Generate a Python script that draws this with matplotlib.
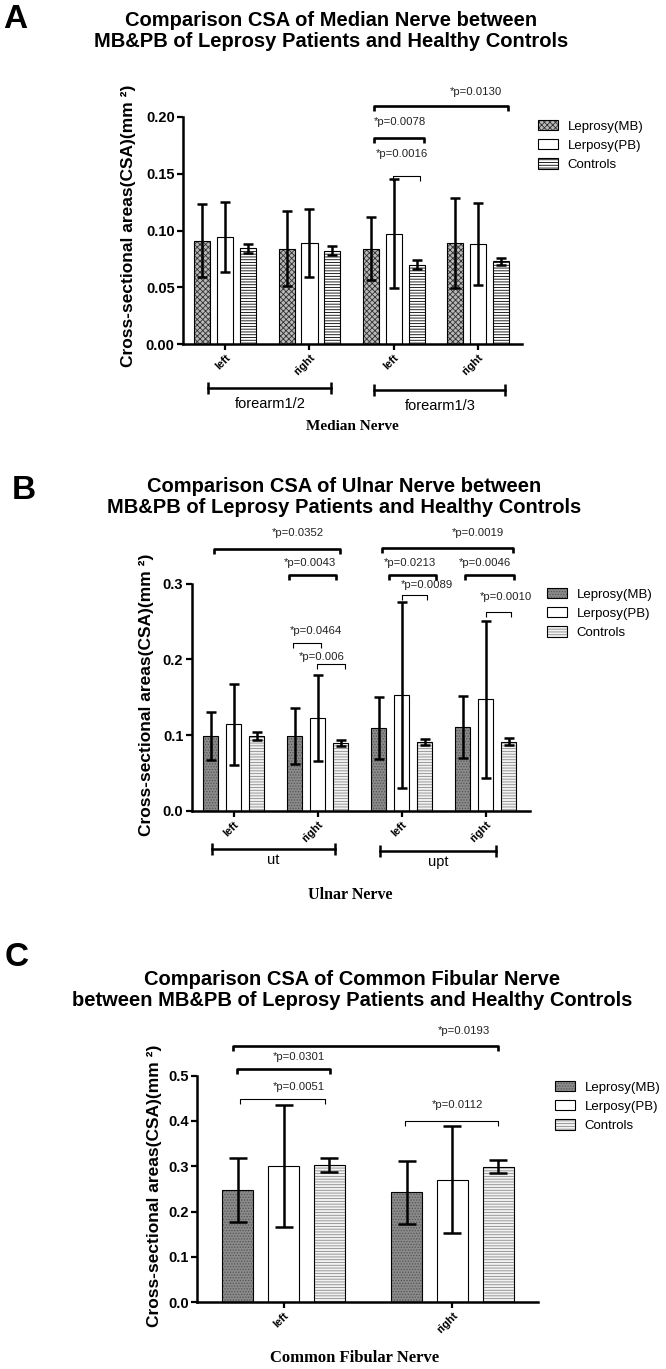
import matplotlib
matplotlib.use('Agg')
import matplotlib.pyplot as plt
import matplotlib.transforms as mtransforms
from matplotlib.legend_handler import HandlerTuple
from matplotlib.patches import Patch
import numpy as np

# ---- data ----
series_names = ['Leprosy(MB)', 'Lerposy(PB)', 'Controls']
side_labels = ['left', 'right', 'left', 'right']

# Median nerve
median_groups = ['forearm1/2', 'forearm1/3']
median_mb = [0.091, 0.084, 0.084, 0.089]
median_mb_sd = [0.032, 0.033, 0.028, 0.040]
median_pb = [0.094, 0.089, 0.097, 0.088]
median_pb_sd = [0.031, 0.030, 0.048, 0.036]
median_ctrl = [0.0845, 0.082, 0.070, 0.073]
median_ctrl_sd = [0.004, 0.004, 0.0037, 0.003]

# Ulnar nerve
ulnar_groups = ['ut', 'upt']
ulnar_mb = [0.099, 0.099, 0.109, 0.111]
ulnar_mb_sd = [0.032, 0.037, 0.041, 0.041]
ulnar_pb = [0.114, 0.1225, 0.1525, 0.147]
ulnar_pb_sd = [0.054, 0.057, 0.123, 0.104]
ulnar_ctrl = [0.099, 0.089, 0.091, 0.091]
ulnar_ctrl_sd = [0.005, 0.004, 0.004, 0.0045]

# Common fibular nerve
fibular_sides = ['left', 'right']
fibular_mb = [0.248, 0.242]
fibular_mb_sd = [0.071, 0.070]
fibular_pb = [0.300, 0.270]
fibular_pb_sd = [0.135, 0.118]
fibular_ctrl = [0.303, 0.299]
fibular_ctrl_sd = [0.015, 0.014]

# ---- figure setup ----
W, H = 666, 1369
plt.rcParams['font.family'] = ['Liberation Sans', 'DejaVu Sans']
plt.rcParams['hatch.linewidth'] = 0.6
fig = plt.figure(figsize=(W / 100, H / 100), dpi=100)


def fx(px):
    return px / W


def fy(py):
    return 1 - py / H


def make_ax(x0, x1, y_zero, y_top):
    return fig.add_axes([fx(x0), fy(y_zero), (x1 - x0) / W, (y_zero - y_top) / H])


def draw_bars(ax, x, vals, sds, style, width, capsize):
    ax.bar(x, vals, width, color=style['face'], edgecolor=style['hcol'], linewidth=0,
           hatch=style['hatch'], zorder=2)
    ax.bar(x, vals, width, fill=False, edgecolor='black', linewidth=0.8, zorder=3)
    ax.errorbar(x, vals, yerr=sds, fmt='none', ecolor='black', elinewidth=1.8,
                capsize=capsize, capthick=1.8, zorder=4)


def legend_handle(style):
    return (Patch(facecolor=style['face'], edgecolor=style['hcol'], hatch=style['hatch'], linewidth=0),
            Patch(fill=False, edgecolor='black', linewidth=0.8))


def style_axis(ax, xlim, ylim, yticks, fmt, xt, xtl):
    ax.set_xlim(*xlim)
    ax.set_ylim(*ylim)
    for s in ['top', 'right']:
        ax.spines[s].set_visible(False)
    for s in ['left', 'bottom']:
        ax.spines[s].set_linewidth(1.8)
    ax.spines['left'].set_bounds(0, yticks[-1])
    ax.set_yticks(yticks)
    ax.set_yticklabels([fmt % t for t in yticks], fontsize=10.5, fontweight='bold')
    ax.set_xticks(xt)
    ax.set_xticklabels(xtl, rotation=45, ha='right', rotation_mode='anchor',
                       fontsize=8, fontweight='bold')
    ax.tick_params(axis='both', length=4, width=1.6, pad=2)
    ax.patch.set_alpha(0)


def sig(ax, x1, x2, y, label, tx, ty, thick, d):
    lw = 1.9 if thick else 0.8
    ax.plot([x1, x1, x2, x2], [y - d, y, y, y - d], color='black', lw=lw,
            clip_on=False, zorder=5, solid_capstyle='butt')
    ax.text(tx, ty, label, ha='center', va='center', fontsize=8.2, color='#222222')


def group_bar(ax, x1, x2, py, label, ly):
    tr = mtransforms.blended_transform_factory(ax.transData, fig.transFigure)
    ax.plot([x1, x2], [fy(py), fy(py)], transform=tr, color='black', lw=1.8, clip_on=False,
            marker='|', markersize=9, mew=1.8)
    ax.text((x1 + x2) / 2, fy(ly), label, transform=tr, ha='center', va='center', fontsize=10.5)


def panel_text(letter, title, px_letter, py_letter, px_title, py_title):
    fig.text(fx(px_letter), fy(py_letter), letter, fontsize=24, fontweight='bold',
             ha='left', va='center')
    fig.text(fx(px_title), fy(py_title), title, fontsize=14.5, fontweight='bold',
             ha='center', va='center', linespacing=1.15)


def add_legend(handles, px, py):
    fig.legend(handles, series_names, loc='upper left', bbox_to_anchor=(fx(px), fy(py)),
               frameon=False, fontsize=9.5, handlelength=1.5, handleheight=0.8,
               handletextpad=0.75, labelspacing=0.5, borderaxespad=0, borderpad=0,
               handler_map={tuple: HandlerTuple(ndivide=1)})


ylabel = 'Cross-sectional areas(CSA)(mm ²)'
serif = ['Liberation Serif', 'DejaVu Serif']

# ---- Panel A ----
style_a = [dict(face='#b8b8b8', hcol='#303030', hatch='xxxxxx'),
           dict(face='white', hcol='black', hatch=None),
           dict(face='white', hcol='black', hatch='------')]
axA = make_ax(183, 522, 344, 80)
xa = np.arange(len(side_labels))
topA = 0.2 * (344 - 80) / 227
for off, v, s, st in zip([-0.27, 0, 0.27],
                         [median_mb, median_pb, median_ctrl],
                         [median_mb_sd, median_pb_sd, median_ctrl_sd], style_a):
    draw_bars(axA, xa + off, v, s, st, 0.19, 3.3)
style_axis(axA, (-0.5, 3.52), (0, topA), [0, 0.05, 0.10, 0.15, 0.20], '%.2f', xa, side_labels)
dA = 5 * topA / (344 - 80)
sig(axA, 1.77, 3.35, 0.2097, '*p=0.0130', 2.97, 0.222, True, dA)
sig(axA, 1.77, 2.36, 0.1815, '*p=0.0078', 2.07, 0.1956, True, dA)
sig(axA, 1.99, 2.31, 0.148, '*p=0.0016', 2.10, 0.167, False, dA)
group_bar(axA, -0.2, 1.26, 388, median_groups[0], 404)
group_bar(axA, 1.77, 3.32, 390, median_groups[1], 406)
fig.text(fx(352), fy(427), 'Median Nerve', fontsize=11, fontweight='bold',
         family=serif, ha='center', va='center')
fig.text(fx(128), fy(226), ylabel, rotation=90, fontsize=12.5, fontweight='bold',
         ha='center', va='center')
panel_text('A', 'Comparison CSA of Median Nerve between\nMB&PB of Leprosy Patients and Healthy Controls',
           3, 20, 331, 31)
add_legend([legend_handle(st) for st in style_a], 538, 120)

# ---- Panel B ----
style_b = [dict(face='#8a8a8a', hcol='#555555', hatch='......'),
           dict(face='white', hcol='black', hatch=None),
           dict(face='#f2f2f2', hcol='#8a8a8a', hatch='------')]
axB = make_ax(191.7, 530, 810.7, 520)
xb = np.arange(len(side_labels))
topB = (810.7 - 520) / 756.5
for off, v, s, st in zip([-0.274, 0, 0.274],
                         [ulnar_mb, ulnar_pb, ulnar_ctrl],
                         [ulnar_mb_sd, ulnar_pb_sd, ulnar_ctrl_sd], style_b):
    draw_bars(axB, xb + off, v, s, st, 0.18, 3.3)
style_axis(axB, (-0.5, 3.53), (0, topB), [0, 0.1, 0.2, 0.3], '%.1f', xb, side_labels)
dB = 5 * topB / (810.7 - 520)
sig(axB, -0.24, 1.27, 0.346, '*p=0.0352', 0.77, 0.367, True, dB)
sig(axB, 0.66, 1.22, 0.311, '*p=0.0043', 0.91, 0.328, True, dB)
sig(axB, 0.71, 1.04, 0.222, '*p=0.0464', 0.98, 0.238, False, dB)
sig(axB, 0.99, 1.33, 0.194, '*p=0.006', 1.05, 0.2035, False, dB)
sig(axB, 1.77, 3.33, 0.3475, '*p=0.0019', 2.91, 0.367, True, dB)
sig(axB, 1.85, 2.41, 0.312, '*p=0.0213', 2.10, 0.328, True, dB)
sig(axB, 2.76, 3.34, 0.311, '*p=0.0046', 2.99, 0.328, True, dB)
sig(axB, 2.01, 2.30, 0.285, '*p=0.0089', 2.30, 0.299, False, dB)
sig(axB, 3.01, 3.30, 0.262, '*p=0.0010', 3.24, 0.282, False, dB)
group_bar(axB, -0.26, 1.21, 849, ulnar_groups[0], 860)
group_bar(axB, 1.74, 3.125, 851, ulnar_groups[1], 862)
fig.text(fx(350), fy(895), 'Ulnar Nerve', fontsize=11.5, fontweight='bold',
         family=serif, ha='center', va='center')
fig.text(fx(147), fy(695), ylabel, rotation=90, fontsize=12.5, fontweight='bold',
         ha='center', va='center')
panel_text('B', 'Comparison CSA of Ulnar Nerve between\nMB&PB of Leprosy Patients and Healthy Controls',
           12, 491, 344, 497)
add_legend([legend_handle(st) for st in style_b], 547, 588)

# ---- Panel C ----
axC = make_ax(197, 538, 1302, 1020)
xc = np.arange(len(fibular_sides))
topC = (1302 - 1020) / 452.5
for off, v, s, st in zip([-0.272, 0, 0.272],
                         [fibular_mb, fibular_pb, fibular_ctrl],
                         [fibular_mb_sd, fibular_pb_sd, fibular_ctrl_sd], style_b):
    draw_bars(axC, xc + off, v, s, st, 0.18, 6.5)
style_axis(axC, (-0.512, 1.506), (0, topC), [0, 0.1, 0.2, 0.3, 0.4, 0.5], '%.1f', xc, fibular_sides)
dC = 5 * topC / (1302 - 1020)
sig(axC, -0.30, 1.27, 0.566, '*p=0.0193', 1.07, 0.599, True, dC)
sig(axC, -0.275, 0.275, 0.5155, '*p=0.0301', 0.09, 0.542, True, dC)
sig(axC, -0.26, 0.245, 0.449, '*p=0.0051', 0.09, 0.476, False, dC)
sig(axC, 0.72, 1.27, 0.400, '*p=0.0112', 1.03, 0.436, False, dC)
fig.text(fx(355), fy(1358), 'Common Fibular Nerve', fontsize=12, fontweight='bold',
         family=serif, ha='center', va='center')
fig.text(fx(155), fy(1186), ylabel, rotation=90, fontsize=12.5, fontweight='bold',
         ha='center', va='center')
panel_text('C', 'Comparison CSA of Common Fibular Nerve\nbetween MB&PB of Leprosy Patients and Healthy Controls',
           5, 957, 352, 990)
add_legend([legend_handle(st) for st in style_b], 555, 1081)

fig.savefig('out.png', dpi=100, facecolor='white')
